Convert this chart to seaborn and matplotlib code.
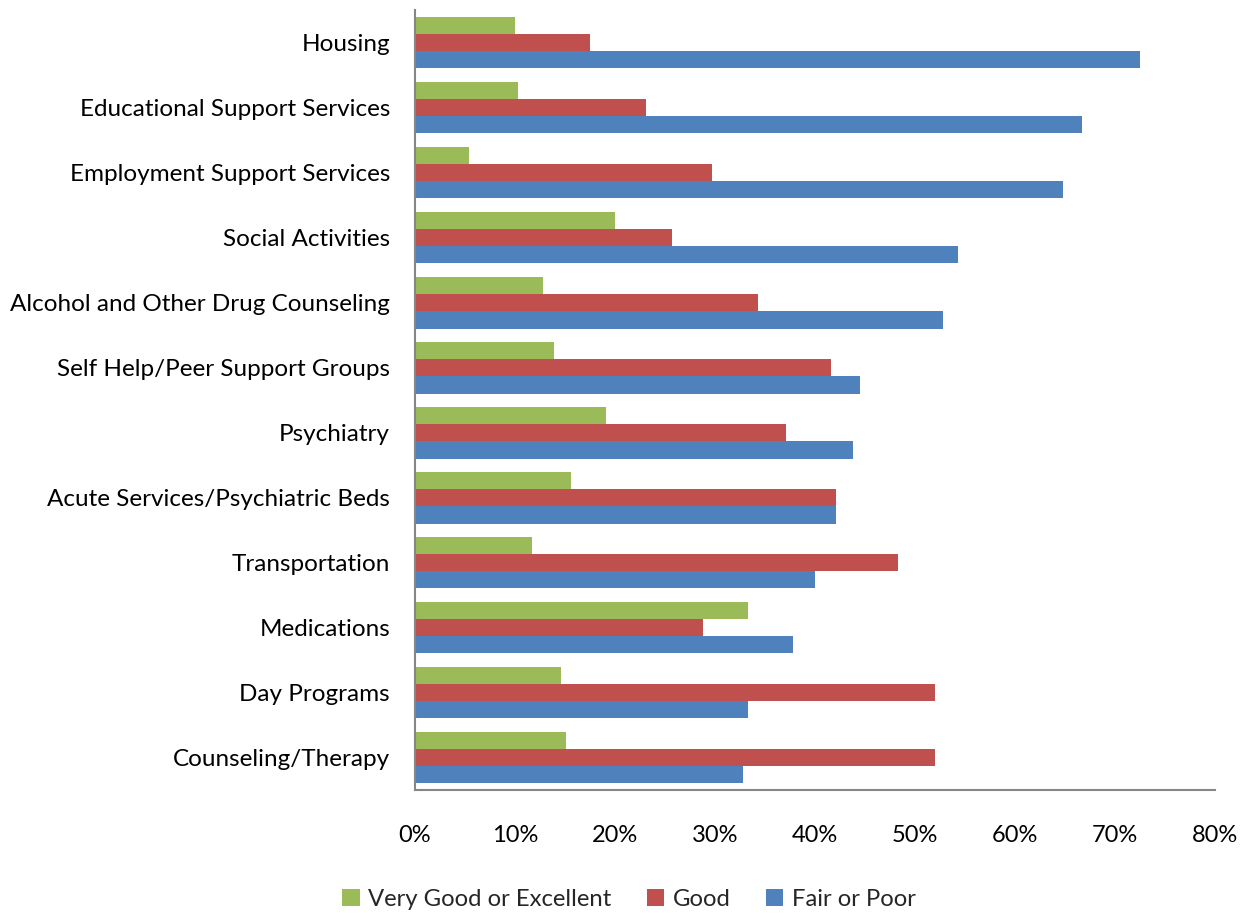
import matplotlib
matplotlib.use("Agg")
import matplotlib.pyplot as plt
import seaborn as sns
import pandas as pd
from matplotlib.ticker import PercentFormatter
from matplotlib.patches import Patch

categories = ["Housing", "Educational Support Services", "Employment Support Services",
              "Social Activities", "Alcohol and Other Drug Counseling", "Self Help/Peer Support Groups",
              "Psychiatry", "Acute Services/Psychiatric Beds", "Transportation", "Medications",
              "Day Programs", "Counseling/Therapy"]
very_good = [10.0, 10.3, 5.4, 20.0, 12.8, 13.9, 19.1, 15.6, 11.7, 33.3, 14.6, 15.1]
good = [17.5, 23.1, 29.7, 25.7, 34.3, 41.6, 37.1, 42.1, 48.3, 28.8, 52.0, 52.0]
fair_poor = [72.5, 66.7, 64.8, 54.3, 52.8, 44.5, 43.8, 42.1, 40.0, 37.8, 33.3, 32.8]
series_names = ["Very Good or Excellent", "Good", "Fair or Poor"]
colors = ["#9BBB59", "#C0504D", "#4F81BD"]

rows = []
for name, vals in zip(series_names, [very_good, good, fair_poor]):
    for c, v in zip(categories, vals):
        rows.append({"category": c, "series": name, "value": v})
df = pd.DataFrame(rows)

sns.set_theme(style="white")
plt.rcParams["font.family"] = ["Lato", "DejaVu Sans"]

fig = plt.figure(figsize=(12.45, 9.13), dpi=100)
ax = fig.add_axes([415/1245, 1-790/913, 800/1245, 780/913])
sns.barplot(data=df, y="category", x="value", hue="series", order=categories,
            hue_order=series_names, palette=colors, orient="h", width=0.8,
            linewidth=0, saturation=1, ax=ax, legend=False)
ax.set_xlim(0, 80)
ax.set_xticks(range(0, 81, 10))
ax.xaxis.set_major_formatter(PercentFormatter(decimals=0))
ax.set_xlabel("")
ax.set_ylabel("")
ax.tick_params(axis="both", length=0, colors="black")
ax.tick_params(axis="y", labelsize=17.5, pad=18)
ax.tick_params(axis="x", labelsize=17, pad=25)
for s in ["top", "right"]:
    ax.spines[s].set_visible(False)
for s in ["left", "bottom"]:
    ax.spines[s].set_color("#868686")
    ax.spines[s].set_linewidth(1.5)

handles = [Patch(facecolor=c, edgecolor="none") for c in colors]
fig.legend(handles, series_names, loc="center", bbox_to_anchor=(629/1245, 1-899/913),
           ncol=3, frameon=False, fontsize=17.2, handlelength=0.72, handleheight=0.72,
           columnspacing=1.5, handletextpad=0.35)

fig.savefig("out.png", dpi=100)
